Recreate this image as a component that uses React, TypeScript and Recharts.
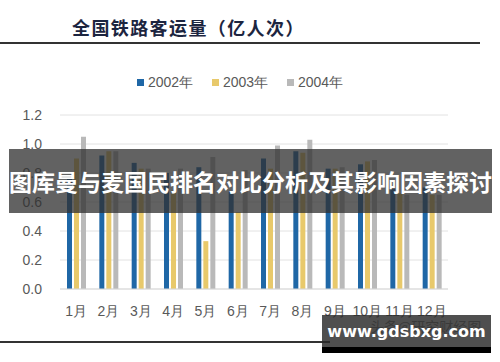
import { BarChart, Bar, XAxis, YAxis, CartesianGrid } from 'recharts'

const MONTHS = ['1月', '2月', '3月', '4月', '5月', '6月', '7月', '8月', '9月', '10月', '11月', '12月']
const Y2002 = [0.76, 0.92, 0.87, 0.8, 0.84, 0.67, 0.9, 0.95, 0.83, 0.86, 0.69, 0.7]
const Y2003 = [0.9, 0.95, 0.83, 0.68, 0.33, 0.53, 0.83, 0.94, 0.83, 0.88, 0.66, 0.65]
const Y2004 = [1.05, 0.95, 0.83, 0.83, 0.91, 0.82, 0.99, 1.03, 0.84, 0.89, 0.65, 0.65]
const Y_TICKS = [0, 0.2, 0.4, 0.6, 0.8, 1.0, 1.2]

const SERIES = [
  { key: 'y2002', name: '2002年', color: '#1f67a6' },
  { key: 'y2003', name: '2003年', color: '#e8c96b' },
  { key: 'y2004', name: '2004年', color: '#b9b9b9' },
]

const data = MONTHS.map((m, i) => ({ month: m, y2002: Y2002[i], y2003: Y2003[i], y2004: Y2004[i] }))

const axisFont = '"Liberation Sans", Arial, sans-serif'
const cjkFont = '"Noto Sans CJK SC", "Noto Sans", sans-serif'

export default function App() {
  return (
    <div style={{ position: 'absolute', left: 0, top: 0, width: 500, height: 362, background: '#fff', overflow: 'hidden' }}>
      {/* title */}
      <div style={{ position: 'absolute', left: 72, top: 14, fontFamily: cjkFont, fontSize: 18, fontWeight: 600, color: '#1c2540', letterSpacing: 1.4, lineHeight: '26px', whiteSpace: 'nowrap' }}>
        全国铁路客运量（亿人次）
      </div>
      <div style={{ position: 'absolute', left: 0, top: 42, width: 480, height: 2, background: '#333' }} />

      {/* legend */}
      <div style={{ position: 'absolute', left: 137, top: 72, display: 'flex', fontFamily: axisFont, fontSize: 14, color: '#595959' }}>
        {SERIES.map(s => (
          <div key={s.key} style={{ width: 75, display: 'flex', alignItems: 'center', lineHeight: '20px' }}>
            <span style={{ width: 7, height: 7, background: s.color, display: 'inline-block', marginRight: 4 }} />
            <span>{s.name}</span>
          </div>
        ))}
      </div>

      <BarChart width={500} height={362} data={data} margin={{ top: 115, right: 52, bottom: 43, left: 0 }} barSize={5} barGap={2}>
        <CartesianGrid vertical={false} stroke="#e2e2e2" />
        <XAxis
          dataKey="month"
          height={30}
          axisLine={{ stroke: '#d9d9d9' }}
          tickLine={false}
          tickSize={0}
          tickMargin={17}
          interval={0}
          tick={{ fill: '#595959', fontSize: 14, fontFamily: axisFont }}
        />
        <YAxis
          width={60}
          domain={[0, 1.2]}
          ticks={Y_TICKS}
          axisLine={false}
          tickLine={false}
          tickSize={0}
          tickMargin={18}
          tickFormatter={(v: number) => v.toFixed(1)}
          tick={{ fill: '#595959', fontSize: 14, fontFamily: axisFont }}
        />
        {SERIES.map(s => (
          <Bar key={s.key} dataKey={s.key} name={s.name} fill={s.color} isAnimationActive={false} />
        ))}
      </BarChart>

      {/* overlay banner */}
      <div style={{ position: 'absolute', left: 9, top: 149, width: 483, height: 64, background: 'rgba(48,48,48,0.76)', display: 'flex', alignItems: 'center', justifyContent: 'center' }}>
        <span style={{ fontFamily: cjkFont, fontSize: 23, fontWeight: 700, color: '#fff', whiteSpace: 'nowrap' }}>
          图库曼与麦国民排名对比分析及其影响因素探讨
        </span>
      </div>

      {/* bottom rule and watermark */}
      <div style={{ position: 'absolute', left: 0, top: 341, width: 330, height: 2, background: '#333' }} />
      <div style={{ position: 'absolute', left: 370, top: 316, fontFamily: cjkFont, fontSize: 14, color: '#8a8a8a', whiteSpace: 'nowrap' }}>
        头条@研究财经图
      </div>
      <div style={{ position: 'absolute', left: 322, top: 315, width: 169, height: 33, background: 'rgba(40,40,40,0.82)', display: 'flex', alignItems: 'center', justifyContent: 'center' }}>
        <span style={{ fontFamily: '"DejaVu Sans", sans-serif', fontSize: 16, fontWeight: 700, color: '#fff', whiteSpace: 'nowrap' }}>www.gdsbxg.com</span>
      </div>
      <div style={{ position: 'absolute', left: 322, top: 347, width: 169, height: 6, background: '#000' }} />
    </div>
  )
}
